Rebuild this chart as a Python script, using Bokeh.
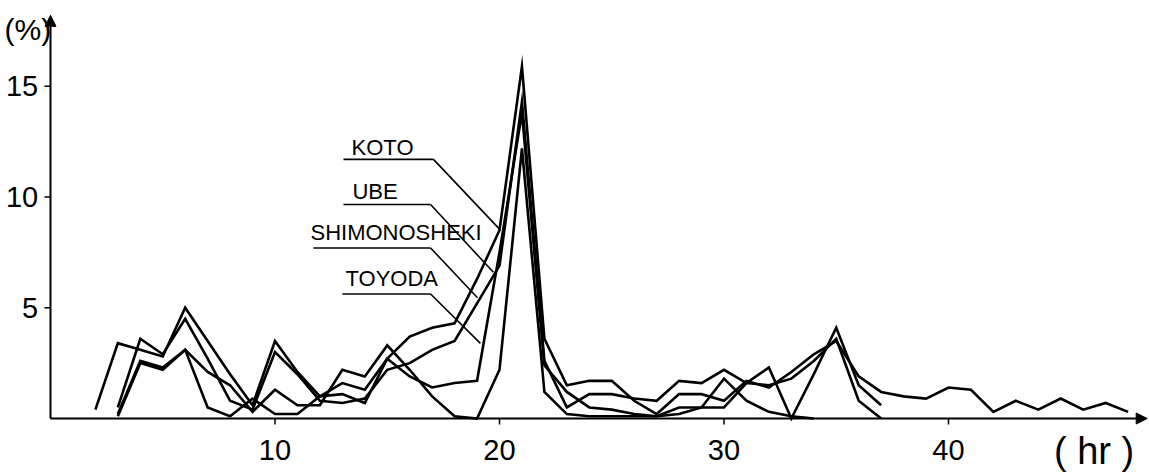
from bokeh.plotting import figure
from bokeh.models import Arrow, NormalHead
from bokeh.core.properties import value
from bokeh.embed import file_html
from bokeh.resources import INLINE

# ---- data (percent of cases by hour) ----
koto_hr = list(range(2, 49))
koto = [0.4, 3.4, 3.1, 2.8, 5.0, 3.5, 2.0, 0.6, 3.5, 2.1, 1.0, 1.6, 1.3, 2.7, 3.7, 4.1,
        4.3, 6.3, 8.5, 15.9, 3.6, 1.5, 1.7, 1.7, 0.8, 0.2, 1.1, 1.1, 0.8, 1.7, 1.4, 2.1,
        2.9, 3.5, 1.9, 1.2, 1.0, 0.9, 1.4, 1.3, 0.3, 0.8, 0.4, 0.9, 0.4, 0.7, 0.3]
ube_hr = list(range(3, 38))
ube = [0.5, 3.6, 2.9, 4.5, 2.7, 0.8, 0.4, 3.0, 2.0, 0.8, 0.7, 0.9, 2.2, 2.5, 3.1, 3.5,
       5.2, 6.9, 14.3, 2.6, 0.5, 1.1, 1.1, 0.9, 0.8, 1.7, 1.6, 2.2, 1.6, 2.3, 0.0, 2.0,
       4.1, 1.5, 0.6]
shimo_hr = list(range(3, 38))
shimo = [0.1, 2.5, 2.2, 3.1, 2.1, 1.5, 0.3, 1.3, 0.6, 0.6, 2.2, 1.9, 3.3, 2.2, 1.0, 0.1,
         0.0, 2.2, 12.2, 1.2, 0.2, 0.1, 0.1, 0.1, 0.1, 0.5, 0.5, 0.5, 1.6, 1.5, 1.8, 2.6,
         3.6, 0.8, 0.0]
toyoda_hr = list(range(3, 35))
toyoda = [0.2, 2.6, 2.3, 3.1, 0.5, 0.1, 0.9, 0.2, 0.2, 1.0, 1.1, 0.7, 2.7, 1.9, 1.4, 1.6,
          1.7, 7.5, 13.8, 2.4, 1.2, 0.5, 0.4, 0.2, 0.1, 0.2, 0.5, 1.8, 0.8, 0.3, 0.1, 0.0]

names = ["KOTO", "UBE", "SHIMONOSHEKI", "TOYODA"]
x_ticks = [10, 20, 30, 40]
x_tick_labels = ["10", "20", "30", "40"]
y_ticks = [5, 10, 15]
y_tick_labels = ["5", "10", "15"]

# label annotation positions (text left, text centre, underline start/end, leader target)
label_x = [13.41, 13.45, 11.58, 13.14]
label_y = [12.23, 10.23, 8.40, 6.34]
under_y = [11.70, 9.66, 7.70, 5.62]
under_x0 = [13.05, 13.05, 11.71, 13.0]
under_x1 = [17.06, 16.93, 16.93, 16.93]
lead_x = [20.0, 19.73, 19.02, 19.15]
lead_y = [8.55, 6.6, 5.45, 3.39]

FONT = "Liberation Sans, Arial, sans-serif"

PX_H = 22.45
PX_V = 22.15
x0 = -50 / PX_H
x1 = x0 + 1149 / PX_H
y1 = 418 / PX_V
y0 = -(476 - 418) / PX_V

p = figure(width=1149, height=476, x_range=(x0, x1), y_range=(y0, y1),
           x_axis_location=None, y_axis_location=None,
           toolbar_location=None, output_backend="svg", min_border=0)
p.grid.visible = False
p.outline_line_color = None
p.background_fill_color = "white"
p.border_fill_color = "white"

# axes
p.add_layout(Arrow(end=NormalHead(size=11, fill_color="black", line_color="black"),
                   x_start=0, y_start=0, x_end=48.85, y_end=0,
                   line_width=2, line_color="black"))
p.add_layout(Arrow(end=NormalHead(size=11, fill_color="black", line_color="black"),
                   x_start=0, y_start=0, x_end=0, y_end=18.2,
                   line_width=2, line_color="black"))

# ticks
p.segment(x0=x_ticks, y0=[0] * 4, x1=x_ticks, y1=[-0.27] * 4, line_width=1.5, line_color="black")
p.segment(x0=[0] * 3, y0=y_ticks, x1=[-0.27] * 3, y1=y_ticks, line_width=1.5, line_color="black")
p.text(x=x_ticks, y=[-1.42] * 4, text=x_tick_labels, text_align="center",
       text_baseline="middle", text_font=value(FONT), text_font_size="29px", text_color="black")
p.text(x=[-0.55] * 3, y=y_ticks, text=y_tick_labels, text_align="right",
       text_baseline="middle", text_font=value(FONT), text_font_size="29px", text_color="black")
p.text(x=[-2.05], y=[17.55], text=["(%)"], text_align="left", text_baseline="middle",
       text_font=value(FONT), text_font_size="30px", text_color="black")
p.text(x=[44.7], y=[-1.45], text=["( hr )"], text_align="left", text_baseline="middle",
       text_font=value(FONT), text_font_size="38px", text_color="black")

# series
for hrs, vals in [(koto_hr, koto), (ube_hr, ube), (shimo_hr, shimo), (toyoda_hr, toyoda)]:
    p.line(hrs, vals, line_width=2.6, line_color="black", line_join="miter")

# labels with underline and leader lines
p.text(x=label_x, y=label_y, text=names, text_align="left", text_baseline="middle",
       text_font=value(FONT), text_font_size="22px", text_color="black")
p.segment(x0=under_x0, y0=under_y, x1=under_x1, y1=under_y, line_width=1.6, line_color="black")
p.segment(x0=under_x1, y0=under_y, x1=lead_x, y1=lead_y, line_width=1.6, line_color="black")

open("out.html", "w").write(file_html(p, INLINE))
